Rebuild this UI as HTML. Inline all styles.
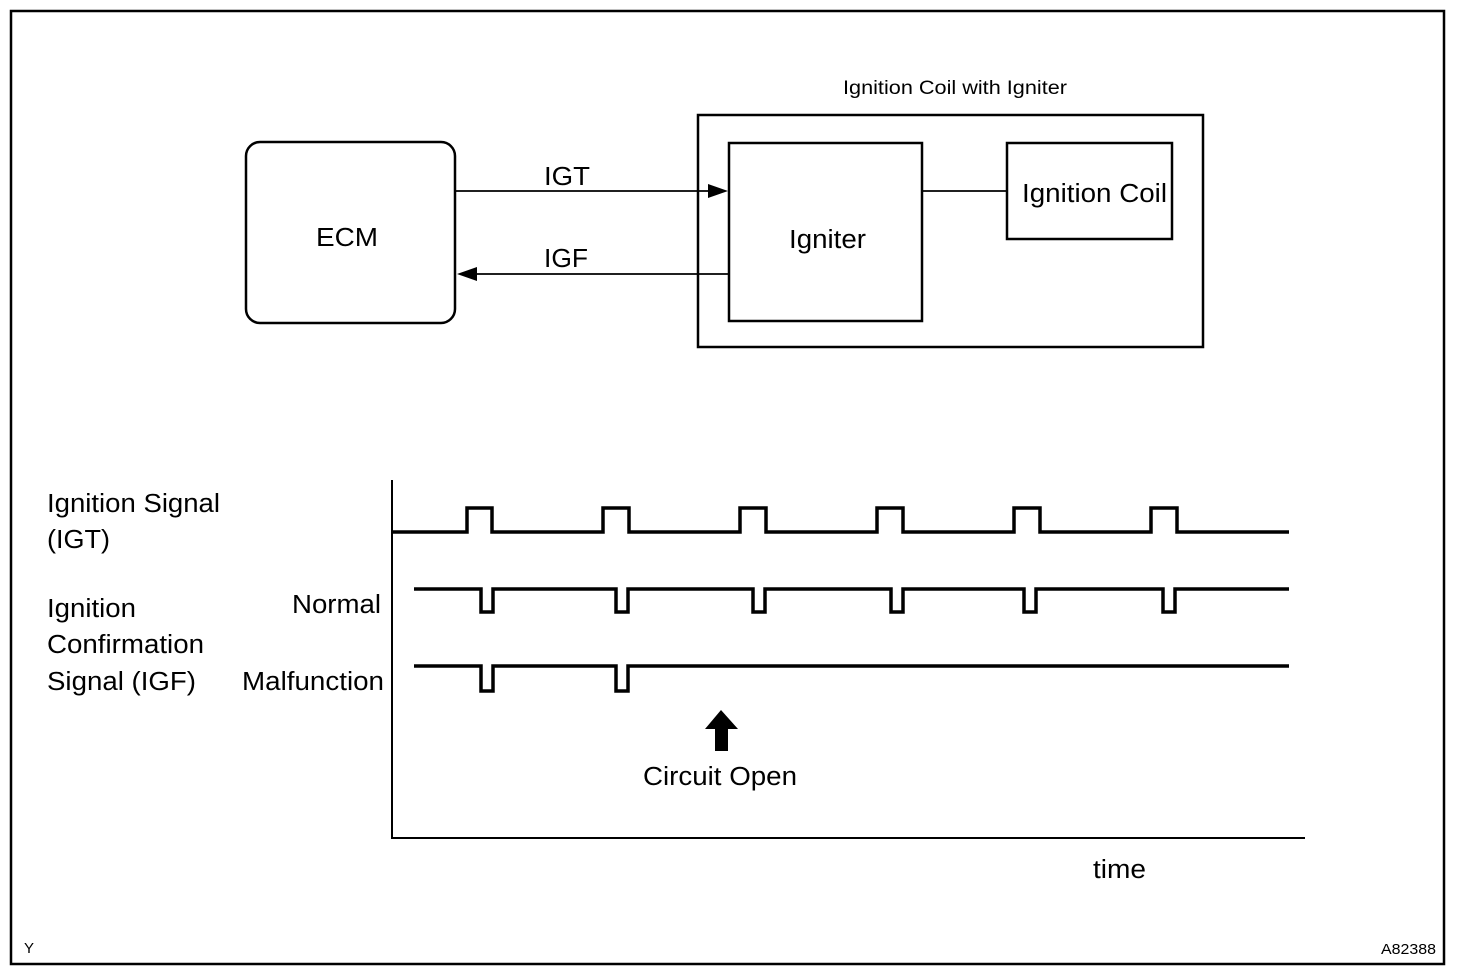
<!DOCTYPE html>
<html><head><style>
body{margin:0;background:#fff;}
svg{display:block;}
text{font-family:"Liberation Sans",Arial,sans-serif;fill:#000;}
</style></head><body>
<svg width="1472" height="976" viewBox="0 0 1472 976" xmlns="http://www.w3.org/2000/svg">
<rect x="11" y="11" width="1433" height="953" fill="none" stroke="#000" stroke-width="2.5"/>
<g fill="none" stroke="#000" stroke-width="2.5">
<rect x="246" y="142" width="209" height="181" rx="14"/>
<rect x="698" y="115" width="505" height="232"/>
<rect x="729" y="143" width="193" height="178"/>
<rect x="1007" y="143" width="165" height="96"/>
</g>
<g stroke="#000" stroke-width="1.8">
<line x1="456" y1="191" x2="712" y2="191"/>
<line x1="472" y1="274" x2="729" y2="274"/>
<line x1="923" y1="191" x2="1007" y2="191"/>
</g>
<polygon points="728,191 708,184 708,198" fill="#000"/>
<polygon points="457,274 477,267 477,281" fill="#000"/>
<g font-size="25.5">
<text x="544" y="185" textLength="46" lengthAdjust="spacingAndGlyphs">IGT</text>
<text x="544" y="267" textLength="44" lengthAdjust="spacingAndGlyphs">IGF</text>
<text x="316" y="246" textLength="62" lengthAdjust="spacingAndGlyphs">ECM</text>
<text x="789" y="248" textLength="77" lengthAdjust="spacingAndGlyphs">Igniter</text>
<text x="1022" y="202" textLength="145" lengthAdjust="spacingAndGlyphs">Ignition Coil</text>
<text x="643" y="785" textLength="154" lengthAdjust="spacingAndGlyphs">Circuit Open</text>
<text x="47" y="512" textLength="173" lengthAdjust="spacingAndGlyphs">Ignition Signal</text>
<text x="47" y="548" textLength="63" lengthAdjust="spacingAndGlyphs">(IGT)</text>
<text x="47" y="617" textLength="89" lengthAdjust="spacingAndGlyphs">Ignition</text>
<text x="47" y="653" textLength="157" lengthAdjust="spacingAndGlyphs">Confirmation</text>
<text x="47" y="690" textLength="149" lengthAdjust="spacingAndGlyphs">Signal (IGF)</text>
<text x="292" y="613" textLength="89" lengthAdjust="spacingAndGlyphs">Normal</text>
<text x="242" y="690" textLength="142" lengthAdjust="spacingAndGlyphs">Malfunction</text>
<text x="1093" y="878" textLength="53" lengthAdjust="spacingAndGlyphs">time</text>
</g>
<text x="843" y="94" font-size="19" textLength="224" lengthAdjust="spacingAndGlyphs">Ignition Coil with Igniter</text>
<g fill="none" stroke="#000" stroke-width="2">
<line x1="392" y1="480" x2="392" y2="839"/>
<line x1="391" y1="838" x2="1305" y2="838"/>
</g>
<g fill="none" stroke="#000" stroke-width="3.5">
<path d="M391 532 H467 V508 H492 V532 H603 V508 H629 V532 H740 V508 H766 V532 H877 V508 H903 V532 H1014 V508 H1040 V532 H1151 V508 H1177 V532 H1289"/>
<path d="M414 589 H481 V612 H493 V589 H616 V612 H628 V589 H753 V612 H765 V589 H891 V612 H903 V589 H1024 V612 H1036 V589 H1163 V612 H1175 V589 H1289"/>
<path d="M414 666 H481 V691 H493 V666 H616 V691 H628 V666 H1289"/>
</g>
<polygon points="721,710 705,729 715,729 715,751 728,751 728,729 738,729" fill="#000"/>
<text x="24" y="953" font-size="15">Y</text>
<text x="1381" y="954" font-size="15" textLength="55" lengthAdjust="spacingAndGlyphs">A82388</text>
</svg>
</body></html>
